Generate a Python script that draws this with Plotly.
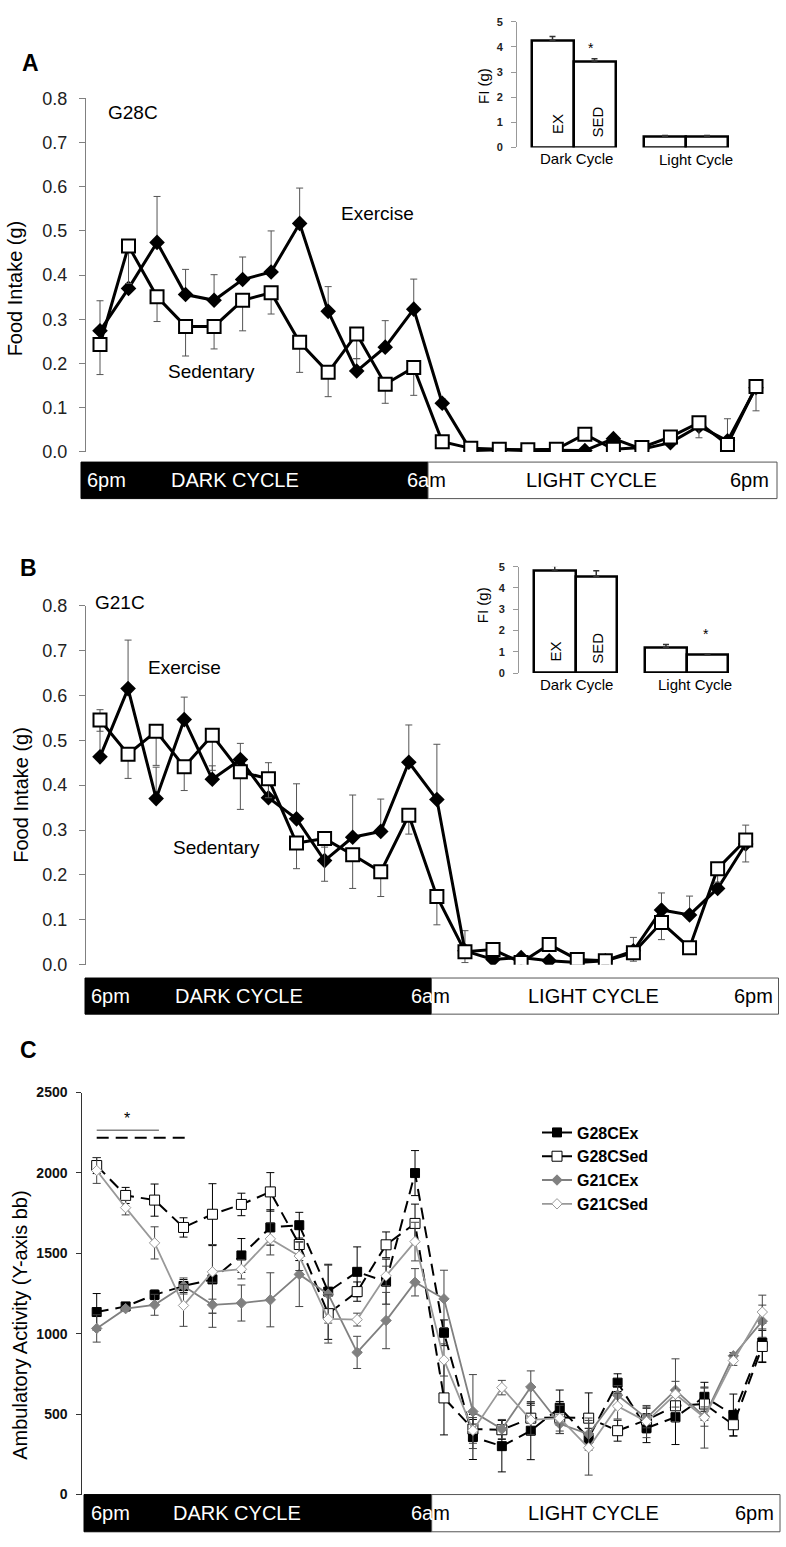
import plotly.graph_objects as go

W, H = 786, 1547
def xp(px): return px / W
def yp(py): return 1 - py / H

# ---------------- DATA ----------------
hour_index = list(range(24))  # 6pm ... 5pm (hourly bins)

# Panel A: G28C food intake (g)
A_ex = [0.274, 0.370, 0.474, 0.356, 0.343, 0.390, 0.407, 0.517, 0.318, 0.183, 0.237, 0.323,
        0.110, 0.003, 0.005, 0.003, 0.004, 0.003, 0.030, 0.006, 0.021, 0.058, 0.025, 0.145]
A_ex_err = [0.068, 0.010, 0.104, 0.057, 0.058, 0.051, 0.093, 0.080, 0.056, 0.028, 0.060, 0.068,
            0.010, 0.003, 0.003, 0.003, 0.003, 0.003, 0.005, 0.003, 0.005, 0.010, 0.050, 0.005]
A_sed = [0.243, 0.466, 0.351, 0.284, 0.284, 0.343, 0.360, 0.248, 0.180, 0.267, 0.153, 0.191,
         0.023, 0.008, 0.006, 0.005, 0.006, 0.040, 0.006, 0.010, 0.034, 0.066, 0.017, 0.148]
A_sed_err = [0.068, 0.085, 0.056, 0.067, 0.051, 0.069, 0.048, 0.068, 0.055, 0.056, 0.043, 0.063,
             0.010, 0.005, 0.005, 0.005, 0.005, 0.005, 0.005, 0.005, 0.005, 0.034, 0.005, 0.055]

# Panel B: G21C food intake (g)
B_ex = [0.463, 0.615, 0.370, 0.546, 0.413, 0.457, 0.372, 0.325, 0.232, 0.284, 0.297, 0.451,
        0.368, 0.031, 0.012, 0.016, 0.009, 0.005, 0.009, 0.031, 0.122, 0.111, 0.170, 0.269]
B_ex_err = [0.105, 0.108, 0.070, 0.050, 0.030, 0.036, 0.078, 0.078, 0.030, 0.094, 0.072, 0.083,
            0.123, 0.045, 0.005, 0.005, 0.005, 0.005, 0.005, 0.030, 0.038, 0.042, 0.010, 0.042]
B_sed = [0.545, 0.469, 0.520, 0.441, 0.511, 0.430, 0.414, 0.271, 0.281, 0.245, 0.207, 0.333,
         0.152, 0.029, 0.034, 0.005, 0.045, 0.012, 0.009, 0.027, 0.094, 0.038, 0.214, 0.278]
B_sed_err = [0.025, 0.054, 0.076, 0.053, 0.078, 0.084, 0.042, 0.057, 0.095, 0.075, 0.055, 0.042,
             0.063, 0.024, 0.010, 0.003, 0.010, 0.005, 0.005, 0.019, 0.038, 0.010, 0.030, 0.049]

# Insets: total food intake FI (g)
inset_groups = ["Dark Cycle", "Light Cycle"]
A_inset_ex = [4.25, 0.43]
A_inset_ex_err = [0.17, 0.05]
A_inset_sed = [3.40, 0.43]
A_inset_sed_err = [0.13, 0.05]
B_inset_ex = [4.80, 1.19]
B_inset_ex_err = [0.26, 0.15]
B_inset_sed = [4.54, 0.85]
B_inset_sed_err = [0.27, 0.03]

# Panel C: ambulatory activity (Y-axis beam breaks)
C_g28_ex = [1135, 1170, 1242, 1297, 1338, 1487, 1661, 1675, 1262, 1385, 1324, 1999,
            1006, 358, 301, 397, 540, 352, 696, 413, 481, 608, 495, 945]
C_g28_ex_err = [115, 20, 30, 40, 210, 105, 110, 80, 170, 155, 140, 140,
                80, 140, 160, 180, 110, 60, 55, 90, 170, 90, 130, 120]
C_g28_sed = [2046, 1860, 1831, 1661, 1743, 1804, 1882, 1555, 1125, 1262, 1553, 1686,
             601, 407, 403, 475, 479, 475, 397, 464, 552, 563, 434, 921]
C_g28_sed_err = [50, 50, 100, 60, 190, 70, 120, 100, 160, 60, 80, 120,
                 230, 60, 60, 90, 100, 157, 65, 80, 100, 100, 70, 100]
C_g21_ex = [1033, 1156, 1180, 1297, 1180, 1191, 1211, 1369, 1246, 884, 1082, 1320,
            1217, 516, 407, 669, 440, 376, 618, 475, 649, 485, 863, 1078]
C_g21_ex_err = [85, 15, 65, 50, 140, 112, 168, 200, 180, 100, 175, 85,
                178, 230, 60, 100, 60, 100, 60, 60, 195, 60, 20, 100]
C_g21_sed = [2015, 1784, 1565, 1176, 1385, 1401, 1590, 1483, 1092, 1088, 1360, 1573,
             837, 399, 665, 464, 475, 291, 550, 454, 624, 479, 833, 1135]
C_g21_sed_err = [80, 45, 100, 130, 170, 60, 100, 90, 150, 40, 60, 120,
                 100, 80, 45, 90, 80, 170, 80, 100, 80, 190, 30, 105]

# significance bars in panel C (hour index spans)
sig_gray_span = [0, 2.15]
sig_black_span = [0, 3.1]
sig_gray_level = 2265
sig_black_level = 2218

# ---------------- FIGURE ----------------
FONT = "Liberation Sans"
GRAY = "#808080"
fig = go.Figure()

def xrange_for(dom_left, dom_right, first_px, step):
    return [(dom_left - first_px) / step, (dom_right - first_px) / step]

sA = (756 - 100) / 23
sB = (745.7 - 100) / 23
sC = (762.3 - 96.7) / 23

def food_traces(ex, ex_err, sed, sed_err, xa, ya):
    fig.add_trace(go.Scatter(
        x=hour_index, y=ex, mode="lines+markers", showlegend=False,
        line=dict(color="black", width=3),
        marker=dict(symbol="diamond", size=12, color="black"),
        error_y=dict(type="data", symmetric=False, array=ex_err, arrayminus=[0]*len(ex),
                     color="#555555", thickness=1, width=3.5),
        xaxis=xa, yaxis=ya))
    fig.add_trace(go.Scatter(
        x=hour_index, y=sed, mode="lines+markers", showlegend=False,
        line=dict(color="black", width=3),
        marker=dict(symbol="square", size=13, color="white", line=dict(color="black", width=2)),
        error_y=dict(type="data", symmetric=False, array=[0]*len(sed), arrayminus=sed_err,
                     color="#555555", thickness=1, width=3.5),
        xaxis=xa, yaxis=ya))

food_traces(A_ex, A_ex_err, A_sed, A_sed_err, "x", "y")
food_traces(B_ex, B_ex_err, B_sed, B_sed_err, "x3", "y3")

# Insets
group_offset = [0, 2.68]
def inset_traces(ex, ex_err, sed, sed_err, xa, ya):
    for vals, errs, k in ((ex, ex_err, 0), (sed, sed_err, 1)):
        fig.add_trace(go.Bar(
            x=[g + 0.5 + k for g in group_offset], y=vals, width=1, showlegend=False,
            marker=dict(color="white", line=dict(color="black", width=2.5)),
            error_y=dict(type="data", symmetric=False, array=errs, arrayminus=[0, 0],
                         color="#333333", thickness=1.5, width=3),
            xaxis=xa, yaxis=ya))

inset_traces(A_inset_ex, A_inset_ex_err, A_inset_sed, A_inset_sed_err, "x2", "y2")
inset_traces(B_inset_ex, B_inset_ex_err, B_inset_sed, B_inset_sed_err, "x4", "y4")

# Panel C traces
c_specs = [
    ("G28CEx", C_g28_ex, C_g28_ex_err, dict(color="black", width=2, dash="12px,7px"),
     dict(symbol="square", size=9, color="black", line=dict(color="black", width=1)), "black"),
    ("G28CSed", C_g28_sed, C_g28_sed_err, dict(color="black", width=2, dash="12px,7px"),
     dict(symbol="square", size=10, color="white", line=dict(color="black", width=1)), "black"),
    ("G21CEx", C_g21_ex, C_g21_ex_err, dict(color=GRAY, width=1.8),
     dict(symbol="diamond", size=8, color=GRAY, line=dict(color=GRAY, width=1)), "#444444"),
    ("G21CSed", C_g21_sed, C_g21_sed_err, dict(color="#999999", width=1.8),
     dict(symbol="diamond", size=8, color="white", line=dict(color="#999999", width=1)), "#444444"),
]
for name, vals, errs, line, marker, ecol in c_specs:
    fig.add_trace(go.Scatter(
        x=hour_index, y=vals, name=name, mode="lines+markers",
        line=line, marker=marker,
        error_y=dict(type="data", array=errs, color=ecol, thickness=1, width=4),
        xaxis="x5", yaxis="y5"))

# significance lines in C
fig.add_shape(type="line", xref="x5", yref="y5", x0=sig_gray_span[0], x1=sig_gray_span[1],
              y0=sig_gray_level, y1=sig_gray_level, line=dict(color=GRAY, width=1.5))
fig.add_shape(type="line", xref="x5", yref="y5", x0=sig_black_span[0], x1=sig_black_span[1],
              y0=sig_black_level, y1=sig_black_level, line=dict(color="black", width=2, dash="12px,7px"))

# ---------------- AXES ----------------
tickfont_main = dict(family=FONT, size=18, color="#222222")
def main_y(dom_top, dom_bot, rng, dtick, fmt, tickfont, ticklen, linecolor, standoff):
    return dict(domain=[yp(dom_bot), yp(dom_top)], range=rng, dtick=dtick, tickformat=fmt,
                showgrid=False, zeroline=False, showline=True, linecolor=linecolor, linewidth=1,
                ticks="outside", ticklen=ticklen, tickcolor=linecolor, tickfont=tickfont,
                ticklabelstandoff=standoff, fixedrange=True)

inset_tickfont = dict(family=FONT, size=11, color="#222222", weight="bold")
def inset_y(dom_top, dom_bot, anchor):
    return dict(domain=[yp(dom_bot), yp(dom_top)], range=[0, 5], dtick=1, showgrid=False,
                zeroline=False, showline=True, linecolor="#999999", ticks="outside", ticklen=5,
                tickcolor="#999999", tickfont=inset_tickfont, ticklabelstandoff=6, anchor=anchor)

fig.update_layout(
    width=W, height=H, autosize=False,
    margin=dict(l=0, r=0, t=0, b=0),
    paper_bgcolor="white", plot_bgcolor="rgba(0,0,0,0)",
    font=dict(family=FONT, color="black"),
    xaxis=dict(domain=[xp(86), xp(778)], range=xrange_for(86, 778, 100, sA), visible=False),
    yaxis=main_y(89.5, 447.7, [0, 0.8], 0.1, ".1f", tickfont_main, 6, GRAY, 8),
    xaxis2=dict(domain=[xp(517), xp(735)], range=[(517 - 531.5) / 42, (735 - 531.5) / 42],
                visible=False, anchor="y2"),
    yaxis2=inset_y(12, 139.3, "x2"),
    xaxis3=dict(domain=[xp(86), xp(779)], range=xrange_for(86, 779, 100, sB), visible=False, anchor="y3"),
    yaxis3=dict(main_y(603.3, 967.3, [0, 0.8], 0.1, ".1f", tickfont_main, 6, GRAY, 8), anchor="x3"),
    xaxis4=dict(domain=[xp(519), xp(735)], range=[(519 - 534) / 41.5, (735 - 534) / 41.5],
                visible=False, anchor="y4"),
    yaxis4=inset_y(564, 671.7, "x4"),
    xaxis5=dict(domain=[xp(82.3), xp(780)], range=xrange_for(82.3, 780, 96.7, sC), visible=False, anchor="y5"),
    yaxis5=dict(main_y(1096.7, 1504, [0, 2500], 500, "d",
                       dict(family=FONT, size=14, color="#111111", weight="bold"), 5, "#333333", 6),
                anchor="x5"),
    legend=dict(x=xp(537), y=yp(1120), xanchor="left", yanchor="top",
                bgcolor="rgba(0,0,0,0)", tracegroupgap=0,
                font=dict(family=FONT, size=16, color="black", weight="bold")),
    bargap=0,
)

# ---------------- CYCLE BARS ----------------
def cycle_bar(left, mid, right, top, bot, labels):
    fig.add_shape(type="rect", xref="paper", yref="paper", x0=xp(left), x1=xp(mid),
                  y0=yp(bot), y1=yp(top), fillcolor="black", line=dict(color="black", width=1))
    fig.add_shape(type="rect", xref="paper", yref="paper", x0=xp(mid), x1=xp(right),
                  y0=yp(bot), y1=yp(top), fillcolor="white", line=dict(color="#555555", width=1))
    yc = (top + bot) / 2
    for txt_, lx in labels:
        fig.add_annotation(text=txt_, xref="paper", yref="paper", x=xp(lx), y=yp(yc),
                           xanchor="left", yanchor="middle", showarrow=False,
                           font=dict(family=FONT, size=20, color="black"))

SIX_AM = "<span style='color:#ffffff'>6a</span><span style='color:#000000'>m</span>"
W6 = "<span style='color:#ffffff'>6pm</span>"
DC = "<span style='color:#ffffff'>DARK CYCLE</span>"
cycle_bar(81, 428, 777, 458, 495, [(W6, 85), (DC, 169), (SIX_AM, 405), ("LIGHT CYCLE", 524), ("6pm", 728)])
cycle_bar(85, 431.5, 778.5, 980.7, 1017.3, [(W6, 89), (DC, 173), (SIX_AM, 409), ("LIGHT CYCLE", 526), ("6pm", 732)])
cycle_bar(84, 431.7, 780, 1504, 1541.7, [(W6, 89), (DC, 171), (SIX_AM, 409), ("LIGHT CYCLE", 526), ("6pm", 733)])

# ---------------- TEXT ----------------
def txt(t, x, y, size=19, angle=0, bold=False, color="black"):
    fig.add_annotation(text=t, xref="paper", yref="paper", x=xp(x), y=yp(y),
                       xanchor="center", yanchor="middle", showarrow=False, textangle=angle,
                       font=dict(family=FONT, size=size, color=color,
                                 weight="bold" if bold else "normal"))

txt("A", 30, 54, 23, bold=True)
txt("B", 29, 565, 23, bold=True)
txt("C", 29, 1054, 23, bold=True)

txt("Food Intake (g)", 15, 282, 20, angle=-90)
txt("Food Intake (g)", 21, 795, 20, angle=-90)
txt("Ambulatory Activity (Y-axis bb)", 20, 1333, 20, angle=-90)

txt("G28C", 132.5, 103.5, 19)
txt("Exercise", 377.5, 206, 19)
txt("Sedentary", 211, 366.5, 19)
txt("G21C", 120, 600.5, 19)
txt("Exercise", 184, 666.5, 19)
txt("Sedentary", 216, 848.5, 19)

txt("FI (g)", 483.5, 76.5, 15, angle=-90)
txt("EX", 557.5, 116, 15, angle=-90)
txt("SED", 598, 114, 15, angle=-90)
txt("Dark Cycle", 576.5, 150.5, 15)
txt("Light Cycle", 695.5, 151.5, 15)
txt("*", 590.7, 39, 14)
txt("FI (g)", 482, 603, 15, angle=-90)
txt("EX", 556, 650, 15, angle=-90)
txt("SED", 597.5, 646.5, 15, angle=-90)
txt("Dark Cycle", 576, 683, 15)
txt("Light Cycle", 695, 683, 15)
txt("*", 705.7, 632, 14)
txt("*", 126.7, 1123, 16)

fig.write_html("out.html", config={"displayModeBar": False},
               post_script="document.body.style.margin='0';document.body.style.padding='0';"
                           "document.documentElement.style.overflow='hidden';")
